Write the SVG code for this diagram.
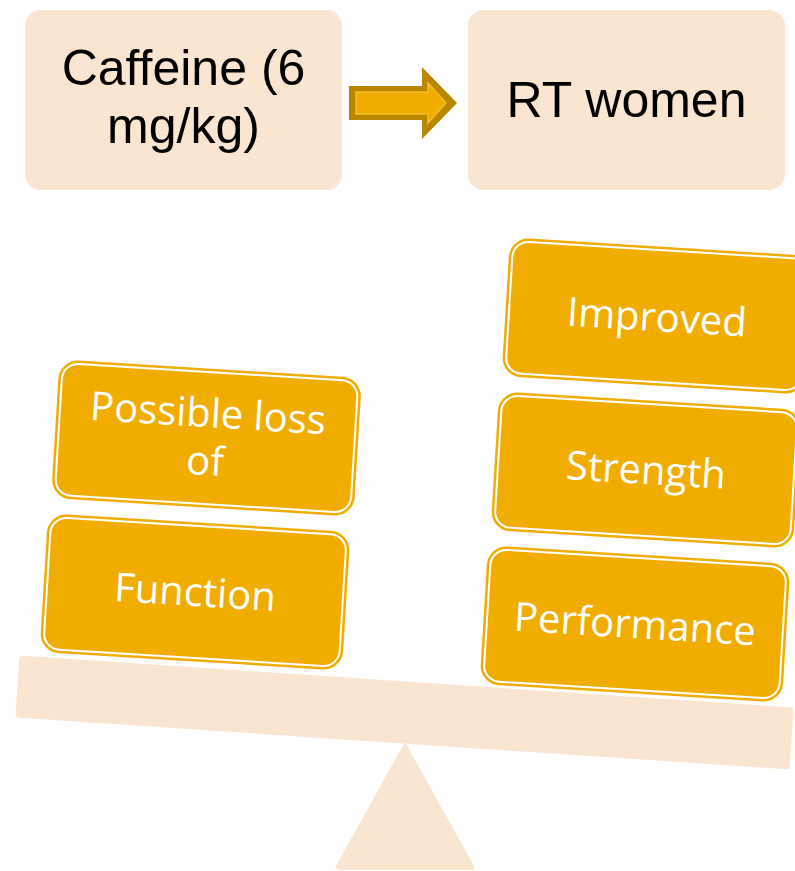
<svg xmlns="http://www.w3.org/2000/svg" width="795" height="871" viewBox="0 0 795 871">
<style>
.peach{fill:#FAE5D1}
.top{font-family:"Liberation Sans",Arial,sans-serif;font-size:50px;fill:#000;text-anchor:middle}
.lbl{font-family:"Open Sans","Liberation Sans",sans-serif;font-size:40px;fill:#fff;text-anchor:middle}
.gold{fill:#F0AD00;stroke:#F0AD00;stroke-width:7}
.ring{fill:none;stroke:#fff;stroke-width:2}
</style>
<defs>
<g id="goldbox">
<rect class="gold" x="-148" y="-66" width="296" height="132" rx="16"/>
<rect class="ring" x="-148" y="-66" width="296" height="132" rx="16"/>
</g>
</defs>
<rect width="795" height="871" fill="#fff"/>
<g id="scale">
<rect class="peach" x="-388" y="-31" width="776" height="62" rx="4" transform="translate(404.5 712.5) rotate(3.84)"/>
<path class="peach" d="M405 742 L474 866 Q475 870 470 870 L340 870 Q335 870 336 866 Z"/>
</g>
<g id="caffeine">
<rect class="peach" x="25" y="10" width="317" height="180" rx="16"/>
<text class="top" x="183.5" y="85">Caffeine (6</text>
<text class="top" x="183.5" y="143">mg/kg)</text>
</g>
<g id="rtwomen">
<rect class="peach" x="468" y="10" width="317" height="180" rx="16"/>
<text class="top" x="626.5" y="117">RT women</text>
</g>
<g id="connectors">
<path d="M349 86 L422 86 L422 67 L457 103 L422 139 L422 120 L349 120 Z" fill="#B88600"/>
<path d="M356 92 L428 92 L428 83 L446 103 L428 123 L428 114 L356 114 Z" fill="#F0AD00" stroke="#F6BE2A" stroke-width="1.5"/>
</g>
<g id="possible" transform="translate(206.5 438) rotate(3.5)">
<use href="#goldbox"/>
<text class="lbl" x="0" y="-11">Possible loss</text>
<text class="lbl" x="0" y="37">of</text>
</g>
<g id="function" transform="translate(195 592) rotate(3.5)">
<use href="#goldbox"/>
<text class="lbl" x="0" y="14">Function</text>
</g>
<g id="improved" transform="translate(657 316) rotate(3.5)">
<use href="#goldbox"/>
<text class="lbl" x="0" y="15">Improved</text>
</g>
<g id="strength" transform="translate(646 470) rotate(3.5)">
<use href="#goldbox"/>
<text class="lbl" x="0" y="14">Strength</text>
</g>
<g id="performance" transform="translate(635 624) rotate(3.5)">
<use href="#goldbox"/>
<text class="lbl" x="0" y="14">Performance</text>
</g>
</svg>
